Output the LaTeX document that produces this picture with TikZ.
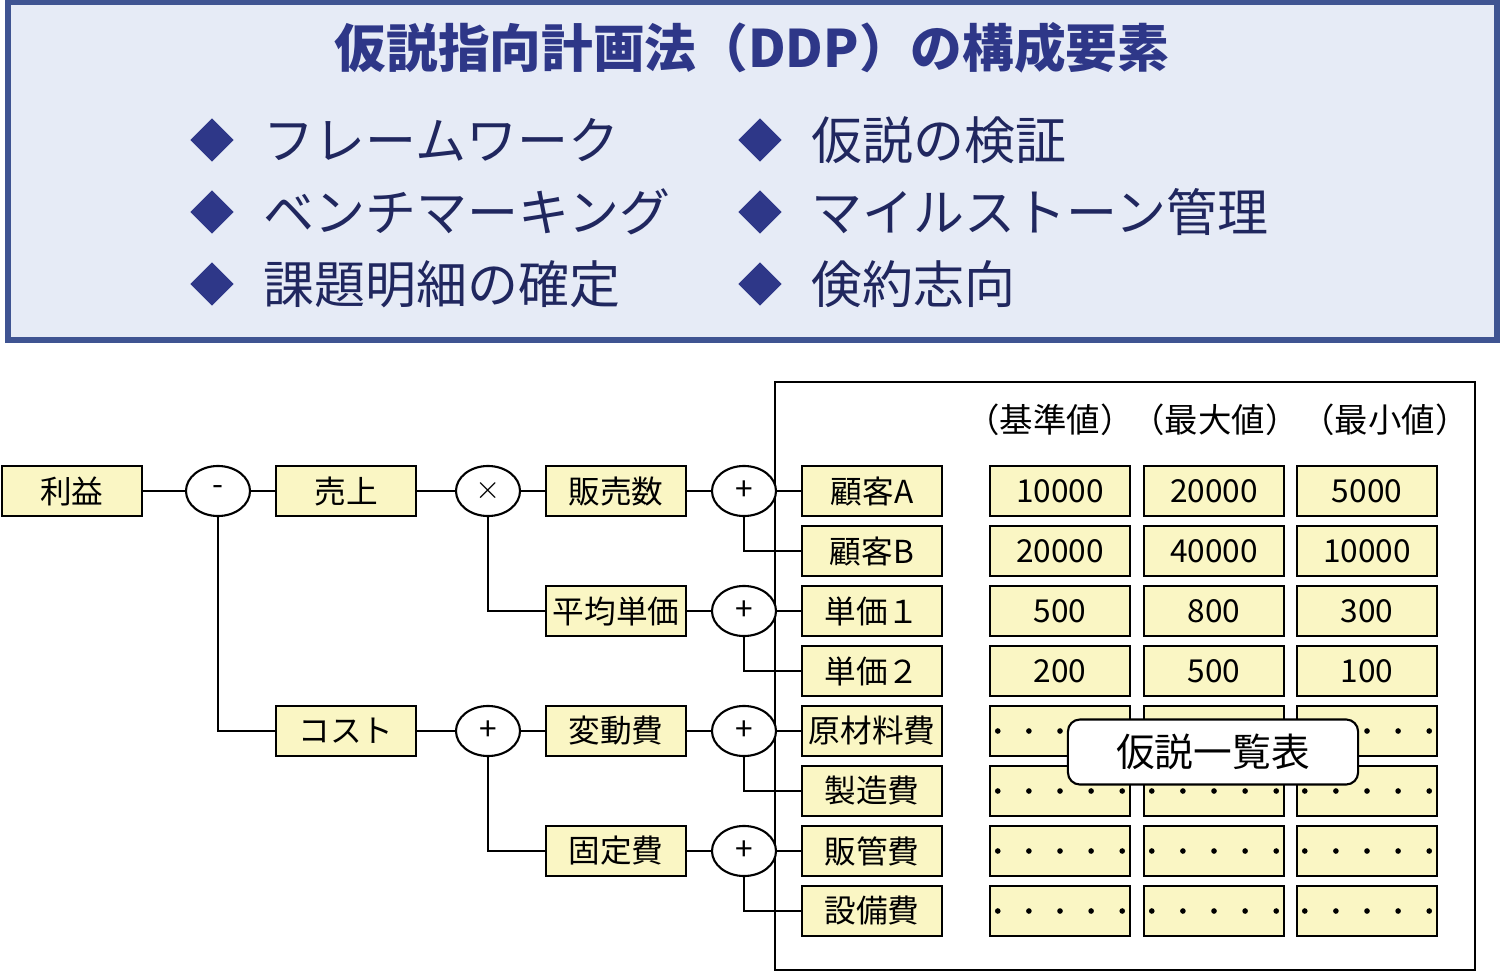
\documentclass[tikz,border=0pt]{standalone}
\usepackage{fontspec}
\setmainfont{Noto Sans CJK JP}
\usepackage{tikz}
\usetikzlibrary{shapes.geometric}
\definecolor{panelfill}{HTML}{E6EBF6}
\definecolor{panelline}{HTML}{3F5492}
\definecolor{navy}{HTML}{2E3788}
\definecolor{cellfill}{HTML}{FAF6C4}
\tikzset{
  cell/.style={draw=black, fill=cellfill, minimum width=1.4cm, minimum height=0.5cm, inner sep=0pt, font=\fontsize{9}{10}\selectfont},
  dotcell/.style={cell, text width=1.3cm, align=center},
  op/.style={draw=black, fill=white, ellipse, minimum width=0.64cm, minimum height=0.5cm, inner sep=0pt, font=\fontsize{9}{10}\selectfont},
  item/.style={anchor=west, font=\fontsize{14.5}{16}\selectfont, text=navy!70!black},
  bullet/.style={diamond, fill=navy, minimum size=0.44cm, inner sep=0pt}
}
\newcommand{\dotmark}{\tikz\fill (0,0) circle (0.8pt);}
\newcommand{\dotrow}{\dotmark\hfill\dotmark\hfill\dotmark\hfill\dotmark\hfill\dotmark}
\begin{document}
\begin{tikzpicture}[x=0.01cm, y=-0.01cm, line width=0.6pt]
        \useasboundingbox (0,0) rectangle (1500,973);
        % title panel
        \draw[panelline, fill=panelfill, line width=1.5pt] (8,2) rectangle (1497,340);
        \node[font=\fontsize{14.7}{16}\selectfont\bfseries, text=navy] (title) at (752,48) {仮説指向計画法（DDP）の構成要素};
        \foreach \txt/\px/\py in {フレームワーク/212/140, ベンチマーキング/212/212, 課題明細の確定/212/284,
                                  仮説の検証/760/140, マイルストーン管理/760/212, 倹約志向/760/284} {
          \node[bullet] at (\px,\py) {};
          \node[item] at (\px+39,\py) {\txt};
        }
        % table frame
        \draw (775,382) rectangle (1475,970);
        \foreach \hd/\px in {（基準値）/1050, （最大値）/1215, （最小値）/1385}
          \node[font=\fontsize{9.5}{10}\selectfont] at (\px,420) {\hd};
        % tree
        \node[cell] (rieki) at (72,491) {利益};
        \node[op] (minus) at (218,491) {-};
        \node[cell] (uriage) at (346,491) {売上};
        \node[op] (times) at (488,491) {$\times$};
        \node[cell] (hanbai) at (616,491) {販売数};
        \node[op] (plusA) at (744,491) {+};
        \node[cell] (kokyakuA) at (872,491) {顧客A};
        \node[cell] (kokyakuB) at (872,551) {顧客B};
        \node[cell] (heikin) at (616,611) {平均単価};
        \node[op] (plusB) at (744,611) {+};
        \node[cell] (tanka1) at (872,611) {単価１};
        \node[cell] (tanka2) at (872,671) {単価２};
        \node[cell] (cost) at (346,731) {コスト};
        \node[op] (plusC) at (488,731) {+};
        \node[cell] (hendo) at (616,731) {変動費};
        \node[op] (plusD) at (744,731) {+};
        \node[cell] (genzai) at (872,731) {原材料費};
        \node[cell] (seizo) at (872,791) {製造費};
        \node[cell] (kotei) at (616,851) {固定費};
        \node[op] (plusE) at (744,851) {+};
        \node[cell] (hankan) at (872,851) {販管費};
        \node[cell] (setsubi) at (872,911) {設備費};
        \draw (rieki) -- (minus) -- (uriage) -- (times) -- (hanbai) -- (plusA) -- (kokyakuA);
        \draw (minus) |- (cost);
        \draw (cost) -- (plusC) -- (hendo) -- (plusD) -- (genzai);
        \draw (times) |- (heikin);
        \draw (heikin) -- (plusB) -- (tanka1);
        \draw (plusC) |- (kotei);
        \draw (kotei) -- (plusE) -- (hankan);
        \draw (plusA) |- (kokyakuB);
        \draw (plusB) |- (tanka2);
        \draw (plusD) |- (seizo);
        \draw (plusE) |- (setsubi);
        % values
        \foreach \a/\b/\c/\py in {10000/20000/5000/491, 20000/40000/10000/551, 500/800/300/611, 200/500/100/671} {
          \node[cell] at (1060,\py) {\a};
          \node[cell] at (1214,\py) {\b};
          \node[cell] at (1367,\py) {\c};
        }
        \foreach \py in {731,791,851,911}
          \foreach \px in {1060,1214,1367}
            \node[dotcell] at (\px,\py) {\dotrow};
        \node[draw=black, fill=white, rounded corners=0.12cm, minimum width=2.9cm, minimum height=0.65cm,
              font=\fontsize{11}{12}\selectfont] (ichiran) at (1213,752) {仮説一覧表};
\end{tikzpicture}
\end{document}
